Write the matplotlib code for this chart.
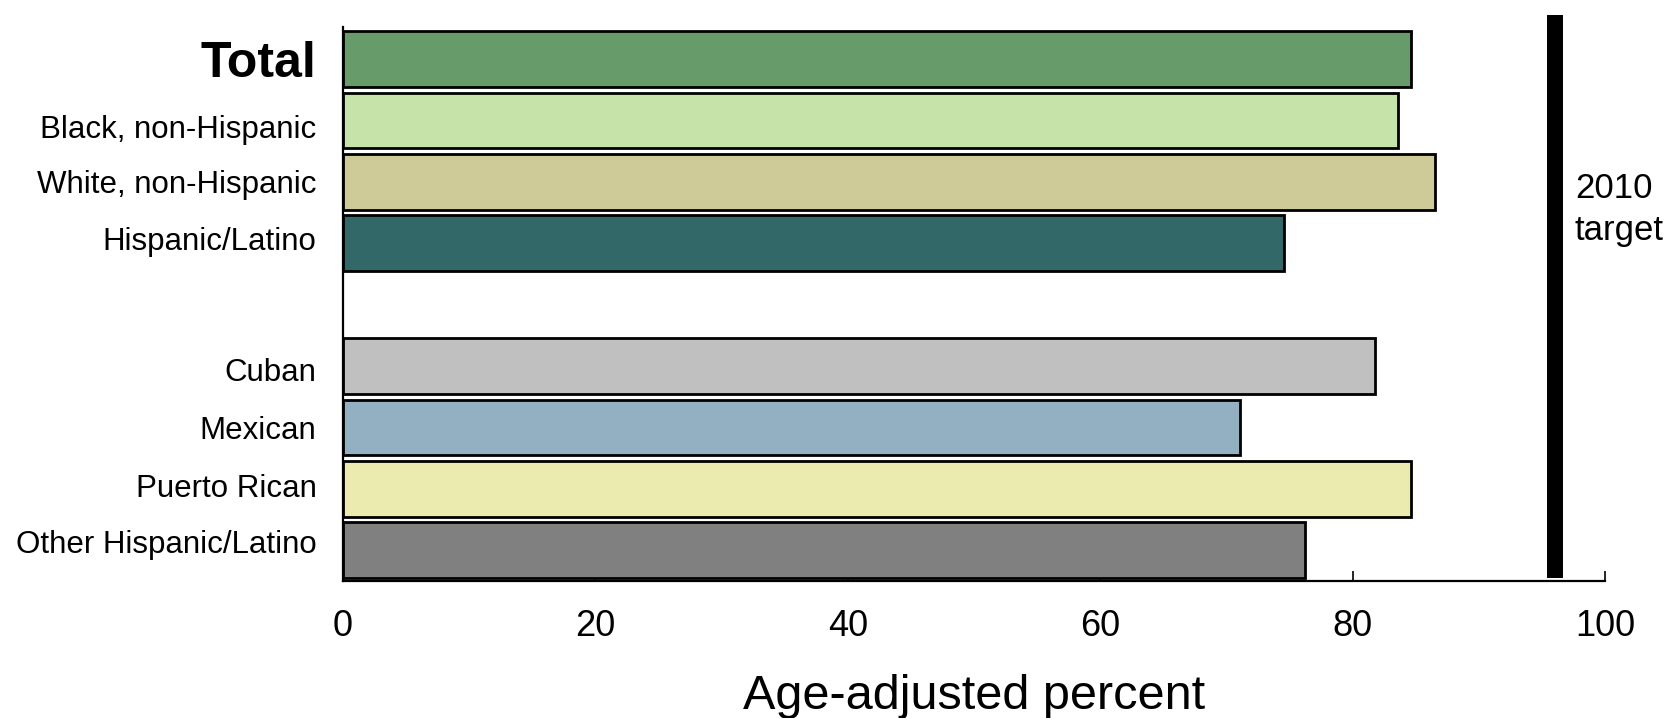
import matplotlib
matplotlib.use("Agg")
import matplotlib.pyplot as plt

plt.rcParams['font.family'] = ['Liberation Sans', 'DejaVu Sans']

categories = [
    "Total",
    "Black, non-Hispanic",
    "White, non-Hispanic",
    "Hispanic/Latino",
    "",
    "Cuban",
    "Mexican",
    "Puerto Rican",
    "Other Hispanic/Latino",
]
values = [84.6, 83.6, 86.5, 74.6, None, 81.8, 71.1, 84.6, 76.2]
colors = ["#689B6A", "#C6E3A9", "#CECB98", "#336868", None,
          "#C0C0C0", "#93B0C2", "#EBEAAF", "#808080"]
target = 96.0
xticks = [0, 20, 40, 60, 80, 100]

# label rows are not quite on the bar centres in the original
label_rows = [0.0, 1.1, 2.0, 2.92, 4.0, 5.05, 6.0, 6.94, 7.86]

fig = plt.figure(figsize=(16.65, 7.18), dpi=100)
ax = fig.add_axes([0.206, 0.191, 0.758, 0.771])

for i, (v, c) in enumerate(zip(values, colors)):
    if v is None:
        continue
    ax.barh(i, v, height=0.91, color=c, edgecolor="black", linewidth=2.0, zorder=2)

# 2010 target line
ax.plot([target, target], [-0.72, 8.45], color="black", linewidth=11.5,
        solid_capstyle="butt", clip_on=False, zorder=3)
ax.text(target + 1.6, 2.45, "2010\ntarget", fontsize=25, ha="left", va="center",
        linespacing=1.35)

ax.set_xlim(0, 100)
ax.set_ylim(8.5, -0.52)

ax.set_yticks(label_rows)
ax.set_yticklabels(categories, fontsize=22.5)
ax.get_yticklabels()[0].set_fontsize(36)
ax.get_yticklabels()[0].set_fontweight("bold")
ax.tick_params(axis="y", length=0, pad=19)

ax.set_xticks(xticks)
ax.set_xticklabels([str(t) for t in xticks], fontsize=26)
ax.tick_params(axis="x", direction="in", length=7, width=1.2, pad=20)

ax.set_xlabel("Age-adjusted percent", fontsize=35, labelpad=22)

for s in ["top", "right"]:
    ax.spines[s].set_visible(False)
ax.spines["left"].set_linewidth(1.6)
ax.spines["bottom"].set_linewidth(1.6)

fig.savefig("out.png", dpi=100)
